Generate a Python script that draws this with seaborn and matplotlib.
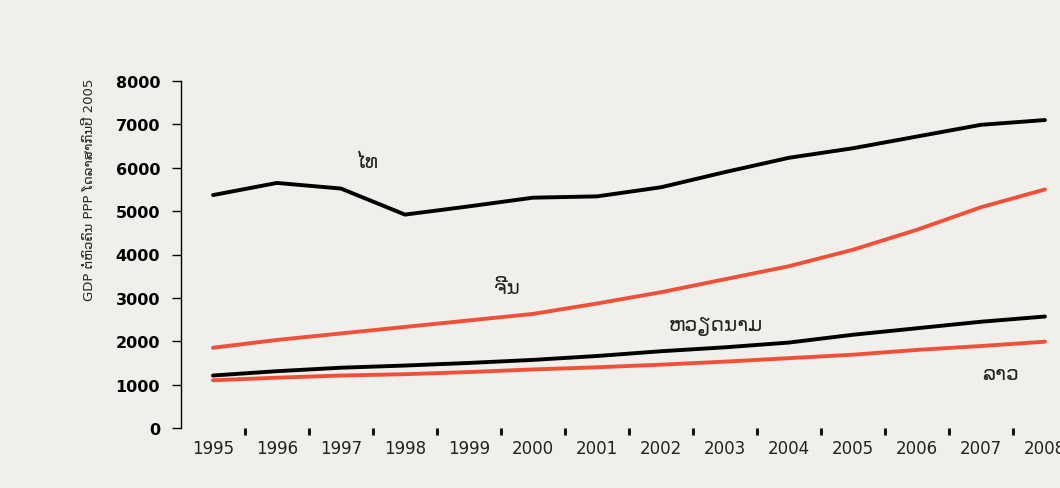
"""GDP per capita (PPP) line chart, Lao labels."""

import matplotlib

matplotlib.use("Agg")
import matplotlib.pyplot as plt
import numpy as np
import pandas as pd
import seaborn as sns

years = list(range(1995, 2009))
thai = [5370, 5650, 5520, 4920, 5110, 5310, 5340, 5550, 5900, 6230, 6450, 6720, 6990, 7100]
china = [1850, 2030, 2180, 2330, 2480, 2630, 2870, 3130, 3430, 3730, 4110, 4570, 5090, 5500]
vietnam = [1210, 1310, 1390, 1440, 1500, 1570, 1660, 1770, 1860, 1970, 2150, 2300, 2450, 2570]
laos = [1100, 1160, 1210, 1240, 1290, 1350, 1400, 1460, 1530, 1610, 1690, 1800, 1890, 1990]

series_names = ["ໄທ", "ຈີນ", "ຫວຽດນາມ", "ລາວ"]
series_colors = ["#000000", "#f05038", "#000000", "#f05038"]
label_pos = [(2.4, 6150), (4.6, 3230), (7.85, 2360), (12.3, 1250)]
y_label = "GDP ຕໍ່ຫົວຄົນ PPP ໂດລາສາກົນປີ 2005"

bg = "#f0efeb"

df = pd.DataFrame({
    "x": np.tile(np.arange(len(years)), 4),
    "value": thai + china + vietnam + laos,
    "series": np.repeat(series_names, len(years)),
})

sns.set_style("white")
plt.rcParams["font.family"] = ["DejaVu Sans"]

fig = plt.figure(figsize=(10.6, 4.89), dpi=100, facecolor=bg)
ax = fig.add_axes([181 / 1060, 60 / 489, 896 / 1060, 347 / 489])
ax.set_facecolor(bg)

sns.lineplot(
    data=df, x="x", y="value", hue="series",
    palette=dict(zip(series_names, series_colors)),
    linewidth=2.8, legend=False, ax=ax,
)

for name, (px, py) in zip(series_names, label_pos):
    ax.text(px, py, name, fontsize=14.5, color="#222222", ha="center", va="center")

ax.set_xlim(-0.5, len(years) - 0.5)
ax.set_ylim(0, 8000)
ax.set_yticks(range(0, 8001, 1000))
ax.set_yticklabels([str(v) for v in range(0, 8001, 1000)], fontweight="bold", fontsize=11.5)
ax.tick_params(axis="y", length=6.5, width=1, pad=8.5, colors="black", left=True)

# tick marks between years, labels centred on the years
ax.set_xticks(np.arange(0.5, len(years) - 1, 1.0))
ax.set_xticklabels([])
ax.set_xticks(np.arange(len(years)), minor=True)
ax.set_xticklabels([str(y) for y in years], minor=True, fontsize=12, color="#222222")
ax.tick_params(axis="x", which="major", length=5, width=2, bottom=True, color="black")
ax.tick_params(axis="x", which="minor", length=0, pad=8)

ax.set_xlabel("")
ax.set_ylabel(y_label, fontsize=9.5)
ax.yaxis.set_label_coords(-0.095, 0.69)

for side in ["top", "right", "bottom"]:
    ax.spines[side].set_visible(False)
ax.spines["left"].set_color("black")
ax.spines["left"].set_linewidth(1)

fig.savefig("out.png", dpi=100, facecolor=bg)
plt.close(fig)
